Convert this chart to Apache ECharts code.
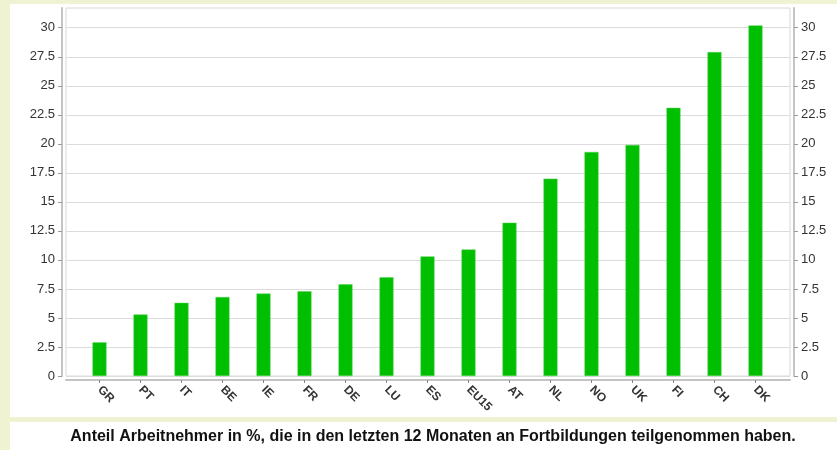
<!DOCTYPE html>
<html>
<head>
<meta charset="utf-8">
<script src="https://cdn.jsdelivr.net/npm/echarts@6/dist/echarts.min.js"></script>
<style>
  html, body { margin: 0; padding: 0; }
  #chart { width: 837px; height: 450px; }
</style>
</head>
<body>
<div id="chart"></div>
<script>
// Länder und Anteil in %
const countries = ['GR', 'PT', 'IT', 'BE', 'IE', 'FR', 'DE', 'LU', 'ES', 'EU15', 'AT', 'NL', 'NO', 'UK', 'FI', 'CH', 'DK']
const shares = [2.9, 5.3, 6.3, 6.8, 7.1, 7.3, 7.9, 8.5, 10.3, 10.9, 13.2, 17.0, 19.3, 19.9, 23.1, 27.9, 30.2]
const yTicks = [0, 2.5, 5, 7.5, 10, 12.5, 15, 17.5, 20, 22.5, 25, 27.5, 30]
const caption = 'Anteil Arbeitnehmer in %, die in den letzten 12 Monaten an Fortbildungen teilgenommen haben.'

const yMax = 31.7
const font = 'Liberation Sans, Arial, sans-serif'

const chart = echarts.init(document.getElementById('chart'))

const valueAxis = (pos) => ({
  type: 'value',
  gridIndex: 0,
  position: pos,
  min: 0,
  max: yMax,
  offset: 4,
  axisLine: { show: true, onZero: false, lineStyle: { color: '#c4c4c4', width: 2 } },
  axisTick: { show: true, length: 4, customValues: yTicks, lineStyle: { color: '#999' } },
  axisLabel: {
    customValues: yTicks,
    color: '#333',
    fontSize: 13,
    fontFamily: font,
    margin: 7
  },
  splitLine: { show: pos === 'left', lineStyle: { color: '#dcdcdc' } }
})

const option = {
  backgroundColor: '#eff3d1',
  animation: false,
  graphic: [
    { type: 'rect', z: -10, shape: { x: 10, y: 4, width: 827, height: 413 }, style: { fill: '#fff' } },
    { type: 'rect', z: -10, shape: { x: 10, y: 422, width: 827, height: 28 }, style: { fill: '#fff' } },
    {
      type: 'text', x: 433, y: 437,
      style: {
        text: caption, textAlign: 'center', textVerticalAlign: 'middle',
        fill: '#111', font: 'bold 16px ' + font
      }
    }
  ],
  grid: [
    // Rahmen mit Gitterlinien
    { left: 66, right: 47, top: 8, bottom: 74, show: true, borderColor: '#d8d8d8', borderWidth: 1, backgroundColor: 'transparent' },
    // Bereich der Balken
    { left: 79, right: 61, top: 8, bottom: 74 }
  ],
  xAxis: [
    {
      type: 'value', gridIndex: 0, min: 0, max: 1, offset: 4,
      axisLine: { show: true, onZero: false, lineStyle: { color: '#c4c4c4', width: 2 } },
      axisTick: { show: false }, axisLabel: { show: false }, splitLine: { show: false }
    },
    {
      type: 'category', gridIndex: 1, data: countries, offset: 4,
      axisLine: { show: false, onZero: false },
      axisTick: { show: true, alignWithLabel: true, length: 3, lineStyle: { color: '#888' } },
      axisLabel: {
        rotate: -45, color: '#333', fontSize: 12, fontWeight: 'bold',
        fontFamily: font, margin: 8, interval: 0
      }
    }
  ],
  yAxis: [
    valueAxis('left'),
    valueAxis('right'),
    { type: 'value', gridIndex: 1, min: 0, max: yMax, show: false }
  ],
  series: [
    {
      type: 'bar',
      xAxisIndex: 1,
      yAxisIndex: 2,
      data: shares,
      barWidth: 14,
      itemStyle: { color: '#00bf00', borderColor: '#4fd24f', borderWidth: 0.5 }
    }
  ]
}

chart.setOption(option)
</script>
</body>
</html>
